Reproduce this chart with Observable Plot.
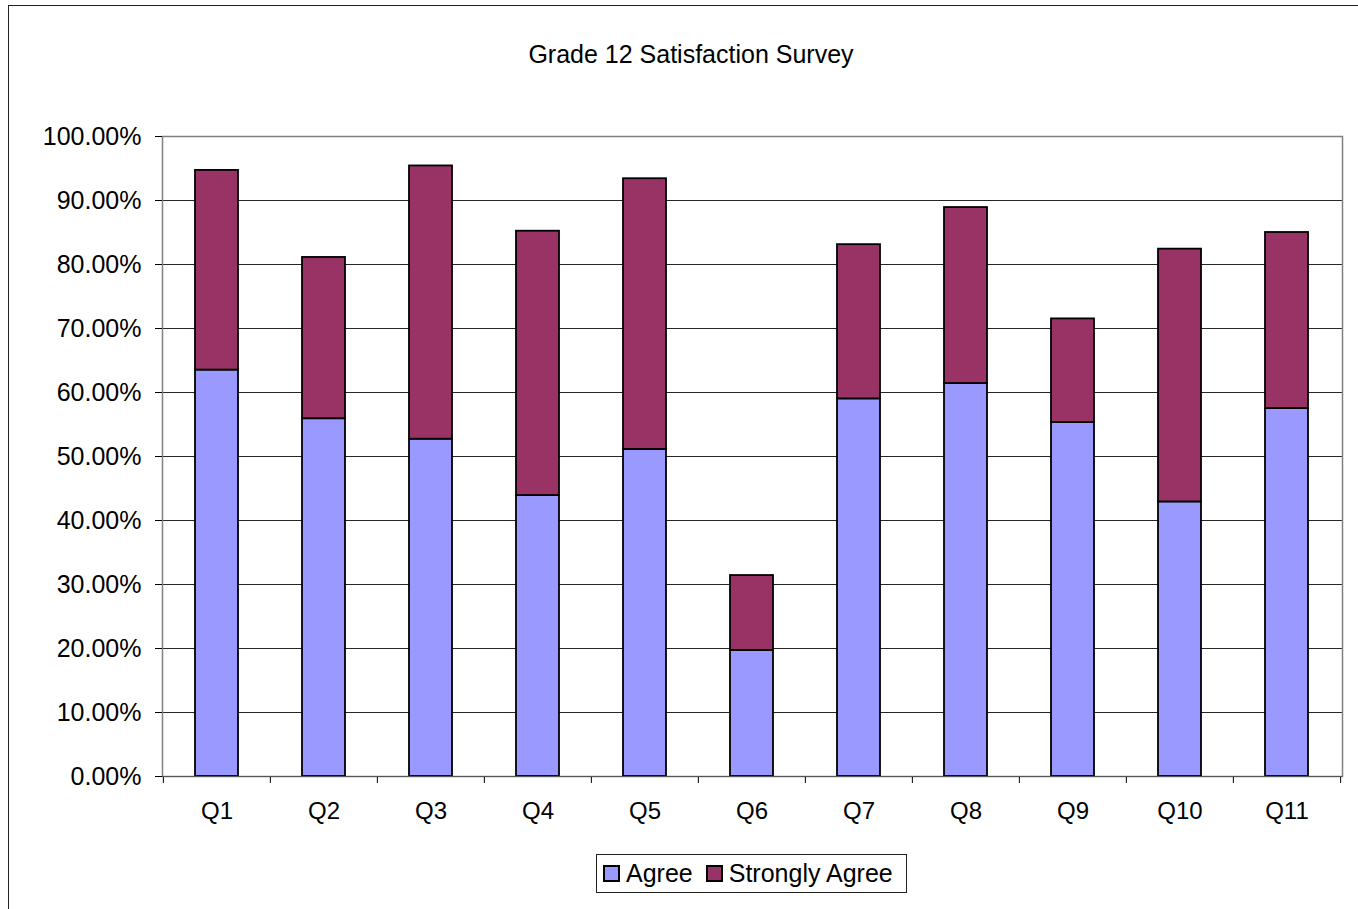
<!DOCTYPE html>
<html>
<head>
<meta charset="utf-8">
<script src="https://cdn.jsdelivr.net/npm/d3@7"></script>
<script src="https://cdn.jsdelivr.net/npm/@observablehq/plot@0.6"></script>
<style>
  html, body { margin: 0; padding: 0; background: #fff; overflow: hidden; width: 1358px; height: 909px; }
  body { position: relative; font-family: "Liberation Sans", Arial, sans-serif; }
  #frame { position: absolute; left: 8px; top: 5px; width: 1380px; height: 960px; border: 1px solid #222; box-sizing: border-box; }
  #title { position: absolute; left: 0; width: 1382px; top: 40px; text-align: center; font-size: 25px; color: #000; }
  #chart { position: absolute; left: 0; top: 100px; }
  #legend { position: absolute; left: 596px; top: 854px; width: 311px; height: 39px; border: 1px solid #222; box-sizing: border-box; display: flex; align-items: center; font-size: 25px; color: #000; }
  .item { display: flex; align-items: center; margin-left: 6px; }
  .item + .item { margin-left: 13px; }
  .sw { width: 13px; height: 13px; border: 2px solid #000; margin-right: 6px; }
</style>
</head>
<body>
<div id="frame"></div>
<div id="title">Grade 12 Satisfaction Survey</div>
<div id="chart"></div>
<div id="legend"></div>
<script>
const categories = ["Q1","Q2","Q3","Q4","Q5","Q6","Q7","Q8","Q9","Q10","Q11"];
const seriesNames = ["Agree", "Strongly Agree"];
const seriesColors = ["#9999FF", "#993366"];
const agree =         [0.635, 0.559, 0.527, 0.439, 0.511, 0.197, 0.590, 0.614, 0.553, 0.429, 0.575];
const stronglyAgree = [0.312, 0.252, 0.427, 0.413, 0.423, 0.117, 0.241, 0.275, 0.162, 0.395, 0.275];
const yTicks = [0, 0.1, 0.2, 0.3, 0.4, 0.5, 0.6, 0.7, 0.8, 0.9, 1.0];
const gridTicks = [0.1, 0.2, 0.3, 0.4, 0.5, 0.6, 0.7, 0.8, 0.9];

const table = [];
seriesNames.forEach((s, si) => {
  const vals = si === 0 ? agree : stronglyAgree;
  categories.forEach((c, i) => table.push({q: c, series: s, value: vals[i]}));
});

const W = 1358, ML = 162, MR = 16;
const step = (W - ML - MR) / categories.length;

const chart = Plot.plot({
  width: W,
  height: 736,
  marginTop: 36,
  marginBottom: 60,
  marginLeft: ML,
  marginRight: MR,
  style: {fontFamily: "'Liberation Sans', Arial, sans-serif", fontSize: "24px", color: "#000", background: "transparent"},
  x: {domain: categories, paddingInner: 0.595, paddingOuter: 0.2975, label: null},
  y: {domain: [0, 1], label: null},
  color: {domain: seriesNames, range: seriesColors},
  marks: [
    Plot.gridY(gridTicks, {stroke: "#000", strokeOpacity: 0.85, strokeWidth: 1}),
    Plot.frame({stroke: "#808080", strokeWidth: 1.5}),
    Plot.axisY(yTicks, {tickFormat: d3.format(".2%"), tickSize: 7, tickPadding: 14, stroke: "#000", label: null, fontSize: 25}),
    Plot.axisX({tickSize: 0, tickPadding: 25, label: null, fontSize: 24}),
    Plot.ruleX(categories, {x: d => d, dx: -step / 2, y1: 0, y2: 0, insetBottom: -7, stroke: "#000"}),
    Plot.ruleX(categories.slice(-1), {x: d => d, dx: step / 2, y1: 0, y2: 0, insetBottom: -7, stroke: "#000"}),
    Plot.barY(table, Plot.stackY({x: "q", y: "value", z: "series", fill: "series", order: seriesNames, stroke: "#000", strokeWidth: 1.8})),
    Plot.ruleY([0], {stroke: "#555", strokeWidth: 1.2})
  ]
});
document.getElementById("chart").appendChild(chart);

const legend = document.getElementById("legend");
seriesNames.forEach((s, i) => {
  const it = document.createElement("div");
  it.className = "item";
  const sw = document.createElement("div");
  sw.className = "sw";
  sw.style.background = seriesColors[i];
  const tx = document.createElement("span");
  tx.textContent = s;
  it.appendChild(sw);
  it.appendChild(tx);
  legend.appendChild(it);
});
</script>
</body>
</html>
